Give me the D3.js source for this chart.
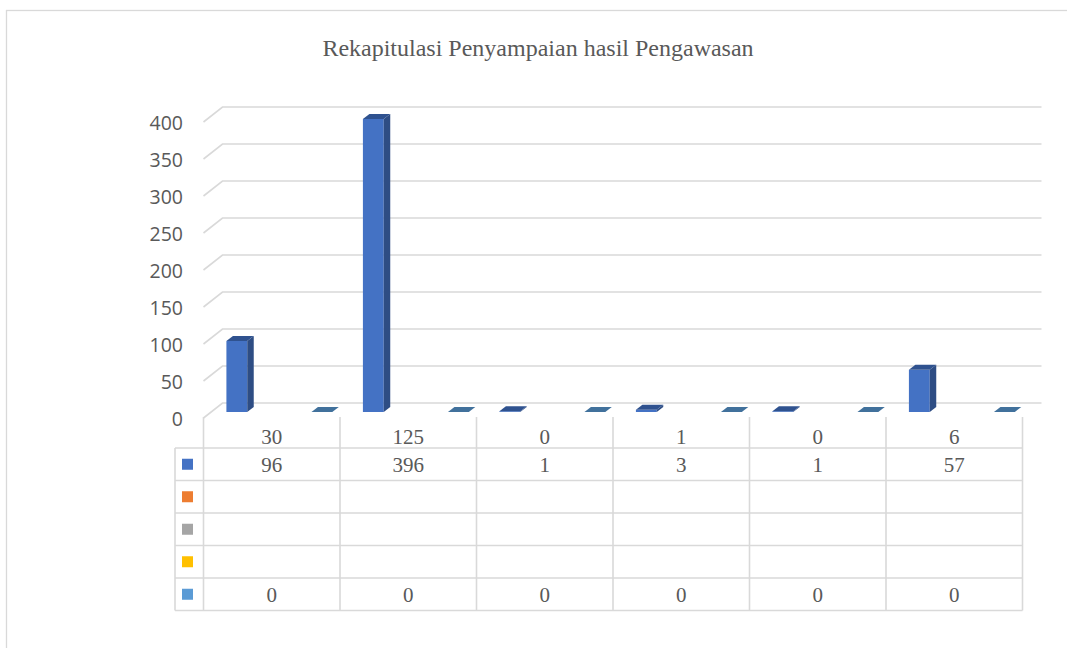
<!DOCTYPE html>
<html>
<head>
<meta charset="utf-8">
<script src="https://cdn.jsdelivr.net/npm/d3@7"></script>
<style>
  html, body { margin: 0; padding: 0; background: #fff; }
  svg { display: block; }
</style>
</head>
<body>
<svg id="chart" width="1067" height="648"></svg>
<script>
// category labels shown in the data table header row
const categories = ['30', '125', '0', '1', '0', '6'];
// five series, only the first and last carry values
const seriesKeys = ['s1', 's2', 's3', 's4', 's5'];
const seriesColors = ['#4472C4', '#ED7D31', '#A5A5A5', '#FFC000', '#5B9BD5'];
const series1 = [96, 396, 1, 3, 1, 57];
const series2 = [null, null, null, null, null, null];
const series3 = [null, null, null, null, null, null];
const series4 = [null, null, null, null, null, null];
const series5 = [0, 0, 0, 0, 0, 0];
const yTicks = [0, 50, 100, 150, 200, 250, 300, 350, 400];

const seriesValues = [series1, series2, series3, series4, series5];

const svg = d3.select('#chart');
const grid = '#d9d9d9';
const textColor = '#595959';

// chart frame (right and bottom run past the window)
svg.append('rect')
  .attr('x', 6.5).attr('y', 10.5)
  .attr('width', 1200).attr('height', 800)
  .attr('fill', 'none').attr('stroke', grid).attr('stroke-width', 1.3);

svg.append('text')
  .attr('x', 538).attr('y', 48)
  .attr('text-anchor', 'middle')
  .attr('dominant-baseline', 'central')
  .attr('font-family', 'Liberation Serif, Times New Roman, serif')
  .attr('font-size', 24)
  .attr('fill', textColor)
  .text('Rekapitulasi Penyampaian hasil Pengawasan');

// front plane geometry
const x0 = 203.5, x1 = 1022.5;
const wallDx = 19, wallDy = -15;   // back wall offset
const barDx = 7.6, barDy = -6;     // bars sit part way into the depth
const depthDx = 6.5, depthDy = -5; // thickness of each bar

const y = d3.scaleLinear().domain([0, 400]).range([418, 122]);
const xCat = d3.scaleBand().domain(d3.range(categories.length)).range([x0, x1]);
const xSer = d3.scaleBand().domain(seriesKeys).range([0, xCat.bandwidth()])
  .paddingInner(0.02).paddingOuter(0.72);

// gridlines: side wall diagonal plus back wall line
const gl = svg.append('g').attr('stroke', grid).attr('stroke-width', 1.6).attr('fill', 'none');
yTicks.forEach((t) => {
  const yf = y(t);
  gl.append('path')
    .attr('d', `M${x0},${yf}L${x0 + wallDx},${yf + wallDy}L${x1 + wallDx},${yf + wallDy}`);
});

// y axis labels
svg.append('g')
  .selectAll('text')
  .data(yTicks)
  .join('text')
  .attr('x', 183)
  .attr('y', (d) => y(d))
  .attr('text-anchor', 'end')
  .attr('dominant-baseline', 'central')
  .attr('font-family', 'Open Sans, sans-serif')
  .attr('font-size', 19.5)
  .attr('fill', textColor)
  .text((d) => d);

// bars
const bars = svg.append('g');
const darker = (c, k) => d3.color(c).darker(k).formatHex();
seriesValues.forEach((vals, si) => {
  vals.forEach((v, ci) => {
    if (v === null) return;
    const bx = xCat(ci) + xSer(seriesKeys[si]) + barDx;
    const w = xSer.bandwidth();
    const yTop = y(v) + barDy;
    const yBase = y(0) + barDy;
    const col = seriesColors[si];
    const topCol = si === 0 ? '#2F528F' : '#41719C';
    if (yBase - yTop > 0.3) {
      bars.append('rect')
        .attr('x', bx).attr('y', yTop)
        .attr('width', w).attr('height', yBase - yTop)
        .attr('fill', col);
      bars.append('path')
        .attr('d', `M${bx + w},${yTop}L${bx + w + depthDx},${yTop + depthDy}L${bx + w + depthDx},${yBase + depthDy}L${bx + w},${yBase}Z`)
        .attr('fill', darker(col, 1.1));
    }
    bars.append('path')
      .attr('d', `M${bx},${yTop}L${bx + depthDx},${yTop + depthDy}L${bx + w + depthDx},${yTop + depthDy}L${bx + w},${yTop}Z`)
      .attr('fill', topCol);
  });
});

// data table
const tableTop = 417, headerBottom = 448, rowH = 32.5, legendX = 175;
const tl = svg.append('g').attr('stroke', grid).attr('stroke-width', 1.6);
d3.range(categories.length + 1).forEach((i) => {
  const xx = x0 + i * xCat.bandwidth();
  tl.append('line').attr('x1', xx).attr('x2', xx)
    .attr('y1', tableTop).attr('y2', headerBottom + rowH * seriesKeys.length);
});
tl.append('line').attr('x1', legendX).attr('x2', legendX)
  .attr('y1', headerBottom).attr('y2', headerBottom + rowH * seriesKeys.length);
d3.range(seriesKeys.length + 1).forEach((r) => {
  const yy = headerBottom + r * rowH;
  tl.append('line').attr('x1', legendX).attr('x2', x1).attr('y1', yy).attr('y2', yy);
});

const tt = svg.append('g')
  .attr('font-family', 'Liberation Serif, Times New Roman, serif')
  .attr('font-size', 21)
  .attr('fill', textColor)
  .attr('text-anchor', 'middle')
  .attr('dominant-baseline', 'central');

categories.forEach((c, ci) => {
  tt.append('text')
    .attr('x', xCat(ci) + xCat.bandwidth() / 2)
    .attr('y', 437)
    .text(c);
});

seriesValues.forEach((vals, si) => {
  const cy = headerBottom + si * rowH + rowH / 2;
  svg.append('rect')
    .attr('x', 182).attr('y', cy - 5.5)
    .attr('width', 11).attr('height', 11)
    .attr('fill', seriesColors[si]);
  vals.forEach((v, ci) => {
    if (v === null) return;
    tt.append('text')
      .attr('x', xCat(ci) + xCat.bandwidth() / 2)
      .attr('y', cy + 0.5)
      .text(v);
  });
});
</script>
</body>
</html>
